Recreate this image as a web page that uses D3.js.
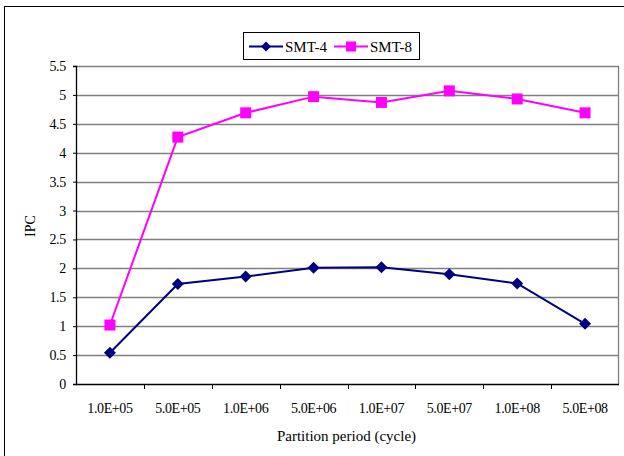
<!DOCTYPE html>
<html>
<head>
<meta charset="utf-8">
<script src="https://cdn.jsdelivr.net/npm/d3@7"></script>
<style>
  html, body { margin: 0; padding: 0; background: #fff; }
  svg { display: block; }
  text { font-family: "Liberation Serif", "Times New Roman", serif; fill: #000; }
</style>
</head>
<body>
<svg id="chart" width="624" height="456"></svg>
<script>
// Partition period categories and IPC per configuration
const periods = ["1.0E+05", "5.0E+05", "1.0E+06", "5.0E+06", "1.0E+07", "5.0E+07", "1.0E+08", "5.0E+08"];
const smt4 = [0.54, 1.73, 1.86, 2.01, 2.02, 1.90, 1.74, 1.04];
const smt8 = [1.02, 4.27, 4.69, 4.97, 4.87, 5.07, 4.93, 4.69];
const yTicks = [0, 0.5, 1, 1.5, 2, 2.5, 3, 3.5, 4, 4.5, 5, 5.5];

const svg = d3.select("#chart");
const margin = { left: 76, right: 5, top: 66, bottom: 72 };
const W = 624, H = 456;
const plotW = W - margin.left - margin.right;
const plotH = H - margin.top - margin.bottom;

// outer chart frame
svg.append("rect")
  .attr("x", 4.5).attr("y", 6.5)
  .attr("width", 640).attr("height", 470)
  .attr("fill", "#fff").attr("stroke", "#000").attr("stroke-width", 1);

const g = svg.append("g").attr("transform", `translate(${margin.left},${margin.top})`);

const x = d3.scaleBand().domain(periods).range([0, plotW]).padding(0);
const y = d3.scaleLinear().domain([0, 5.5]).range([plotH, 0]);

// horizontal gridlines
g.append("g").selectAll("line")
  .data(yTicks.filter(d => d > 0))
  .join("line")
  .attr("x1", 0).attr("x2", plotW)
  .attr("y1", d => Math.round(y(d)) + 0.5).attr("y2", d => Math.round(y(d)) + 0.5)
  .attr("stroke", "#808080").attr("stroke-width", 1.3);

// right border of plot area
g.append("line")
  .attr("x1", plotW - 0.5).attr("x2", plotW - 0.5)
  .attr("y1", y(5.5)).attr("y2", plotH)
  .attr("stroke", "#808080").attr("stroke-width", 1.3);

// y axis
const yAxis = g.append("g")
  .call(d3.axisLeft(y).tickValues(yTicks).tickFormat(d3.format("")).tickSize(3).tickPadding(7));
yAxis.attr("font-family", null).attr("font-size", null);
yAxis.select(".domain").attr("stroke", "#000").attr("stroke-width", 1.3);
yAxis.selectAll(".tick line").attr("stroke", "#000");
yAxis.selectAll("text").style("font-size", "14px").style("letter-spacing", "-0.3px");

// x axis with ticks at category boundaries
const xAxisG = g.append("g").attr("transform", `translate(0,${plotH})`);
xAxisG.append("line")
  .attr("x1", 0).attr("x2", plotW)
  .attr("y1", 0.5).attr("y2", 0.5)
  .attr("stroke", "#000").attr("stroke-width", 1.3);
xAxisG.selectAll("line.tk")
  .data(periods.slice(1))
  .join("line").attr("class", "tk")
  .attr("x1", d => Math.round(x(d)) + 0.5).attr("x2", d => Math.round(x(d)) + 0.5)
  .attr("y1", 0).attr("y2", 5)
  .attr("stroke", "#000");
xAxisG.selectAll("text.lbl")
  .data(periods)
  .join("text").attr("class", "lbl")
  .attr("x", d => x(d) + x.bandwidth() / 2)
  .attr("y", 29)
  .attr("text-anchor", "middle")
  .style("font-size", "14px")
  .style("letter-spacing", "-0.4px")
  .text(d => d);

// axis titles
svg.append("text")
  .attr("x", margin.left + plotW / 2 - 1).attr("y", 441)
  .attr("text-anchor", "middle").style("font-size", "15px")
  .text("Partition period (cycle)");
svg.append("text")
  .attr("transform", `translate(35,${margin.top + plotH / 2 + 1}) rotate(-90)`)
  .attr("text-anchor", "middle").style("font-size", "14px")
  .text("IPC");

const cx = d => x(d) + x.bandwidth() / 2;
const line = d3.line().x(d => cx(d[0])).y(d => y(d[1]));

const series = [
  { name: "SMT-4", values: smt4, color: "#000080", shape: "diamond" },
  { name: "SMT-8", values: smt8, color: "#FF00FF", shape: "square" }
];

function drawMarker(sel, shape, color) {
  if (shape === "diamond") {
    sel.append("path").attr("d", "M0,-6L6,0L0,6L-6,0Z").attr("fill", color);
  } else {
    sel.append("rect").attr("x", -5.5).attr("y", -5.5).attr("width", 11).attr("height", 11).attr("fill", color);
  }
}

series.forEach(s => {
  const pts = periods.map((p, i) => [p, s.values[i]]);
  g.append("path").datum(pts)
    .attr("d", line).attr("fill", "none")
    .attr("stroke", s.color).attr("stroke-width", 2);
  pts.forEach(pt => {
    const m = g.append("g").attr("transform", `translate(${cx(pt[0])},${y(pt[1])})`);
    drawMarker(m, s.shape, s.color);
  });
});

// legend
const lg = svg.append("g");
lg.append("rect")
  .attr("x", 243.5).attr("y", 32.5).attr("width", 176).attr("height", 27)
  .attr("fill", "#fff").attr("stroke", "#000").attr("stroke-width", 1);
const legendItems = [
  { s: series[0], x1: 249, x2: 283, tx: 285 },
  { s: series[1], x1: 334, x2: 368, tx: 370 }
];
legendItems.forEach(it => {
  lg.append("line")
    .attr("x1", it.x1).attr("x2", it.x2).attr("y1", 46.5).attr("y2", 46.5)
    .attr("stroke", it.s.color).attr("stroke-width", 2);
  const m = lg.append("g").attr("transform", `translate(${(it.x1 + it.x2) / 2},46.5)`);
  if (it.s.shape === "diamond") {
    m.append("path").attr("d", "M0,-5L5,0L0,5L-5,0Z").attr("fill", it.s.color);
  } else {
    m.append("rect").attr("x", -5).attr("y", -5).attr("width", 10).attr("height", 10).attr("fill", it.s.color);
  }
  lg.append("text")
    .attr("x", it.tx).attr("y", 51.5)
    .style("font-size", "15px")
    .text(it.s.name);
});
</script>
</body>
</html>
